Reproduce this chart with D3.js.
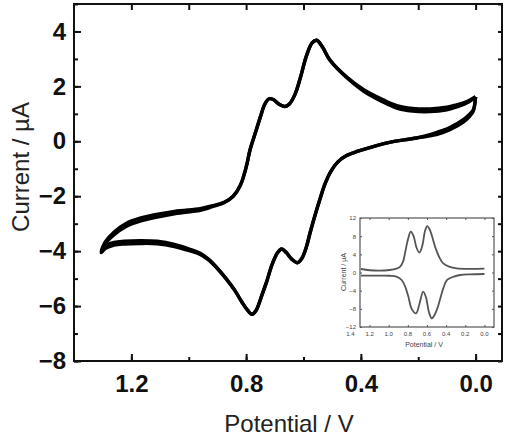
<!DOCTYPE html>
<html>
<head>
<meta charset="utf-8">
<script src="https://cdn.jsdelivr.net/npm/d3@7"></script>
<style>
  body { margin: 0; background: #fff; }
  svg { font-family: "Liberation Sans", Arial, sans-serif; }
</style>
</head>
<body>
<div id="cv"></div>
<script>
// main CV: upper branch (0.0 -> 1.3 V) then lower branch back to 0.0 V
const potential = [0.000, 0.030, 0.066, 0.100, 0.159, 0.220, 0.275, 0.330, 0.390, 0.450, 0.508, 0.535, 0.554, 0.570, 0.590, 0.610, 0.630, 0.650, 0.665, 0.685, 0.705, 0.720, 0.735, 0.750, 0.768, 0.786, 0.800, 0.820, 0.845, 0.877, 0.920, 0.960, 1.050, 1.167, 1.220, 1.260, 1.290, 1.305,
  1.290, 1.260, 1.225, 1.170, 1.110, 1.050, 0.993, 0.960, 0.930, 0.900, 0.870, 0.840, 0.815, 0.795, 0.780, 0.765, 0.745, 0.728, 0.710, 0.690, 0.676, 0.660, 0.640, 0.620, 0.605, 0.590, 0.577, 0.560, 0.543, 0.525, 0.505, 0.480, 0.450, 0.410, 0.360, 0.300, 0.250, 0.206, 0.159, 0.120, 0.090, 0.043, 0.020, 0.008, 0.000];
const currentCycle1 = [1.62, 1.45, 1.33, 1.24, 1.18, 1.20, 1.30, 1.55, 1.88, 2.35, 2.97, 3.45, 3.68, 3.58, 3.10, 2.35, 1.70, 1.35, 1.27, 1.35, 1.52, 1.55, 1.35, 0.90, 0.30, -0.30, -0.95, -1.60, -2.00, -2.22, -2.35, -2.45, -2.55, -2.79, -3.00, -3.30, -3.65, -4.00,
  -3.80, -3.68, -3.64, -3.62, -3.64, -3.75, -3.94, -4.08, -4.30, -4.62, -5.00, -5.42, -5.85, -6.15, -6.30, -6.15, -5.60, -5.10, -4.50, -4.05, -3.92, -4.05, -4.30, -4.42, -4.25, -3.85, -3.33, -2.70, -2.12, -1.55, -1.10, -0.75, -0.52, -0.36, -0.20, -0.04, 0.05, 0.12, 0.24, 0.38, 0.50, 0.79, 1.00, 1.15, 1.62];
const currentCycle2 = [1.62, 1.40, 1.25, 1.15, 1.08, 1.10, 1.21, 1.47, 1.82, 2.32, 2.95, 3.45, 3.68, 3.58, 3.10, 2.35, 1.70, 1.35, 1.27, 1.35, 1.52, 1.55, 1.35, 0.90, 0.30, -0.30, -0.95, -1.60, -2.00, -2.24, -2.39, -2.51, -2.64, -2.90, -3.11, -3.40, -3.72, -4.05,
  -3.90, -3.78, -3.74, -3.72, -3.73, -3.83, -4.00, -4.12, -4.33, -4.64, -5.00, -5.42, -5.85, -6.15, -6.30, -6.15, -5.60, -5.10, -4.50, -4.05, -3.92, -4.05, -4.30, -4.42, -4.25, -3.85, -3.33, -2.70, -2.12, -1.55, -1.10, -0.75, -0.52, -0.36, -0.20, -0.04, 0.05, 0.12, 0.20, 0.30, 0.42, 0.70, 0.92, 1.10, 1.62];

const xTicks = [1.2, 0.8, 0.4, 0.0];
const xMinor = [1.2, 1.0, 0.8, 0.6, 0.4, 0.2, 0.0];
const yTicks = [4, 2, 0, -2, -4, -6, -8];
const yMinor = [5, 4, 3, 2, 1, 0, -1, -2, -3, -4, -5, -6, -7, -8];

// inset (two separate traces)
const insetPotentialUp = [1.29, 1.20, 1.10, 0.99, 0.92, 0.88, 0.85, 0.83, 0.80, 0.77, 0.74, 0.71, 0.68, 0.65, 0.62, 0.597, 0.57, 0.545, 0.516, 0.47, 0.43, 0.37, 0.29, 0.15, 0.00];
const insetCurrentUp = [0.77, 0.50, 0.40, 0.55, 0.85, 1.3, 2.4, 4.2, 7.2, 9.0, 8.0, 5.5, 4.4, 5.8, 9.2, 10.2, 9.4, 7.8, 5.7, 3.3, 2.0, 1.3, 0.9, 0.8, 0.85];
const insetPotentialDown = [1.29, 1.10, 0.99, 0.92, 0.865, 0.83, 0.795, 0.76, 0.715, 0.68, 0.64, 0.61, 0.58, 0.55, 0.52, 0.49, 0.465, 0.43, 0.39, 0.32, 0.255, 0.15, 0.00];
const insetCurrentDown = [-0.7, -0.7, -0.72, -0.9, -1.65, -3.0, -5.3, -8.0, -9.0, -7.0, -4.2, -5.5, -8.7, -10.1, -9.3, -7.8, -6.0, -3.5, -1.65, -0.9, -0.55, -0.4, -0.33];
const insetXTicks = [1.4, 1.2, 1.0, 0.8, 0.6, 0.4, 0.2, 0.0];
const insetYTicks = [12, 8, 4, 0, -4, -8, -12];

const width = 506, height = 438;
const frame = {left: 74, right: 502, top: 4, bottom: 361};

const svg = d3.select("#cv").append("svg")
    .attr("width", width)
    .attr("height", height);

const x = d3.scaleLinear().domain([1.4, -0.092]).range([frame.left, frame.right]);
const y = d3.scaleLinear().domain([-8, 5]).range([frame.bottom, frame.top]);

function tidy(g) {
    g.select(".domain").remove();
    g.selectAll("line").attr("stroke", "#111").attr("stroke-width", 2);
}

// major ticks with labels (bottom / left), ticks pointing inward
svg.append("g")
    .attr("transform", "translate(0," + frame.bottom + ")")
    .call(d3.axisBottom(x).tickValues(xTicks).tickSize(-7).tickPadding(14).tickFormat(d3.format(".1f")))
    .call(tidy)
    .selectAll("text")
    .style("font-size", "24px").style("font-weight", "bold").attr("fill", "#111");

svg.append("g")
    .attr("transform", "translate(" + frame.left + ",0)")
    .call(d3.axisLeft(y).tickValues(yTicks).tickSize(-7).tickPadding(8).tickFormat(d3.format("d")))
    .call(tidy)
    .selectAll("text")
    .style("font-size", "24px").style("font-weight", "bold").attr("fill", "#111");

// minor ticks on all four sides
svg.append("g").attr("transform", "translate(0," + frame.bottom + ")")
    .call(d3.axisBottom(x).tickValues(xMinor).tickSize(-4).tickFormat("")).call(tidy);
svg.append("g").attr("transform", "translate(0," + frame.top + ")")
    .call(d3.axisTop(x).tickValues(xMinor).tickSize(-6).tickFormat("")).call(tidy);
svg.append("g").attr("transform", "translate(" + frame.left + ",0)")
    .call(d3.axisLeft(y).tickValues(yMinor).tickSize(-4).tickFormat("")).call(tidy);
svg.append("g").attr("transform", "translate(" + frame.right + ",0)")
    .call(d3.axisRight(y).tickValues(yMinor).tickSize(-4).tickFormat("")).call(tidy);

svg.append("rect")
    .attr("x", frame.left).attr("y", frame.top)
    .attr("width", frame.right - frame.left).attr("height", frame.bottom - frame.top)
    .attr("fill", "none").attr("stroke", "#111").attr("stroke-width", 2);

// axis titles
svg.append("text")
    .attr("x", (frame.left + frame.right) / 2 + 1).attr("y", 432)
    .attr("text-anchor", "middle")
    .style("font-size", "24px").attr("fill", "#222")
    .text("Potential / V");

svg.append("text")
    .attr("transform", "translate(29,167) rotate(-90)")
    .attr("text-anchor", "middle")
    .style("font-size", "24px").attr("fill", "#222")
    .text("Current / \u00b5A");

// CV traces
const line = d3.line()
    .x(d => x(d[0]))
    .y(d => y(d[1]))
    .curve(d3.curveCatmullRom.alpha(0.5));

[currentCycle1, currentCycle2].forEach(cur => {
    svg.append("path")
        .datum(potential.map((p, i) => [p, cur[i]]))
        .attr("fill", "none")
        .attr("stroke", "#000")
        .attr("stroke-width", 3.4)
        .attr("stroke-linejoin", "round")
        .attr("d", line);
});

// ---- inset ----
const inset = {left: 360, right: 494, top: 218, bottom: 327};
const ix = d3.scaleLinear().domain([1.3, -0.1]).range([inset.left, inset.right]);
const iy = d3.scaleLinear().domain([-12, 12]).range([inset.bottom, inset.top]);
const ig = svg.append("g");

ig.append("rect")
    .attr("x", inset.left).attr("y", inset.top)
    .attr("width", inset.right - inset.left).attr("height", inset.bottom - inset.top)
    .attr("fill", "#fff").attr("stroke", "#555").attr("stroke-width", 1.2);

const inRange = insetXTicks.filter(v => v <= 1.3);
function itidy(g) {
    g.select(".domain").remove();
    g.selectAll("line").attr("stroke", "#555").attr("stroke-width", 1);
    g.selectAll("text").style("font-size", "6px").attr("fill", "#444");
}
ig.append("g").attr("transform", "translate(0," + inset.bottom + ")")
    .call(d3.axisBottom(ix).tickValues(inRange).tickSize(-2).tickFormat("")).call(itidy);
ig.append("g").attr("transform", "translate(0," + inset.top + ")")
    .call(d3.axisTop(ix).tickValues(inRange).tickSize(-2).tickFormat("")).call(itidy);
ig.append("g").attr("transform", "translate(" + inset.left + ",0)")
    .call(d3.axisLeft(iy).tickValues(insetYTicks).tickSize(-2).tickPadding(4)).call(itidy);
ig.append("g").attr("transform", "translate(" + inset.right + ",0)")
    .call(d3.axisRight(iy).tickValues(insetYTicks).tickSize(-2).tickFormat("")).call(itidy);

ig.selectAll("text.ixl")
    .data(insetXTicks)
    .join("text")
    .attr("class", "ixl")
    .attr("x", d => ix(d))
    .attr("y", inset.bottom + 9)
    .attr("text-anchor", "middle")
    .style("font-size", "6px").attr("fill", "#444")
    .text(d3.format(".1f"));

ig.append("text")
    .attr("x", 424).attr("y", 347)
    .attr("text-anchor", "middle")
    .style("font-size", "7px").attr("fill", "#444")
    .text("Potential / V");
ig.append("text")
    .attr("transform", "translate(346,272) rotate(-90)")
    .attr("text-anchor", "middle")
    .style("font-size", "7px").attr("fill", "#444")
    .text("Current / \u00b5A");

const iline = d3.line()
    .x(d => ix(d[0]))
    .y(d => iy(d[1]))
    .curve(d3.curveCatmullRom.alpha(0.5));

[[insetPotentialUp, insetCurrentUp], [insetPotentialDown, insetCurrentDown]].forEach(([ps, cs]) => {
    ig.append("path")
        .datum(ps.map((p, i) => [p, cs[i]]))
        .attr("fill", "none")
        .attr("stroke", "#555")
        .attr("stroke-width", 1.8)
        .attr("d", iline);
});
</script>
</body>
</html>
